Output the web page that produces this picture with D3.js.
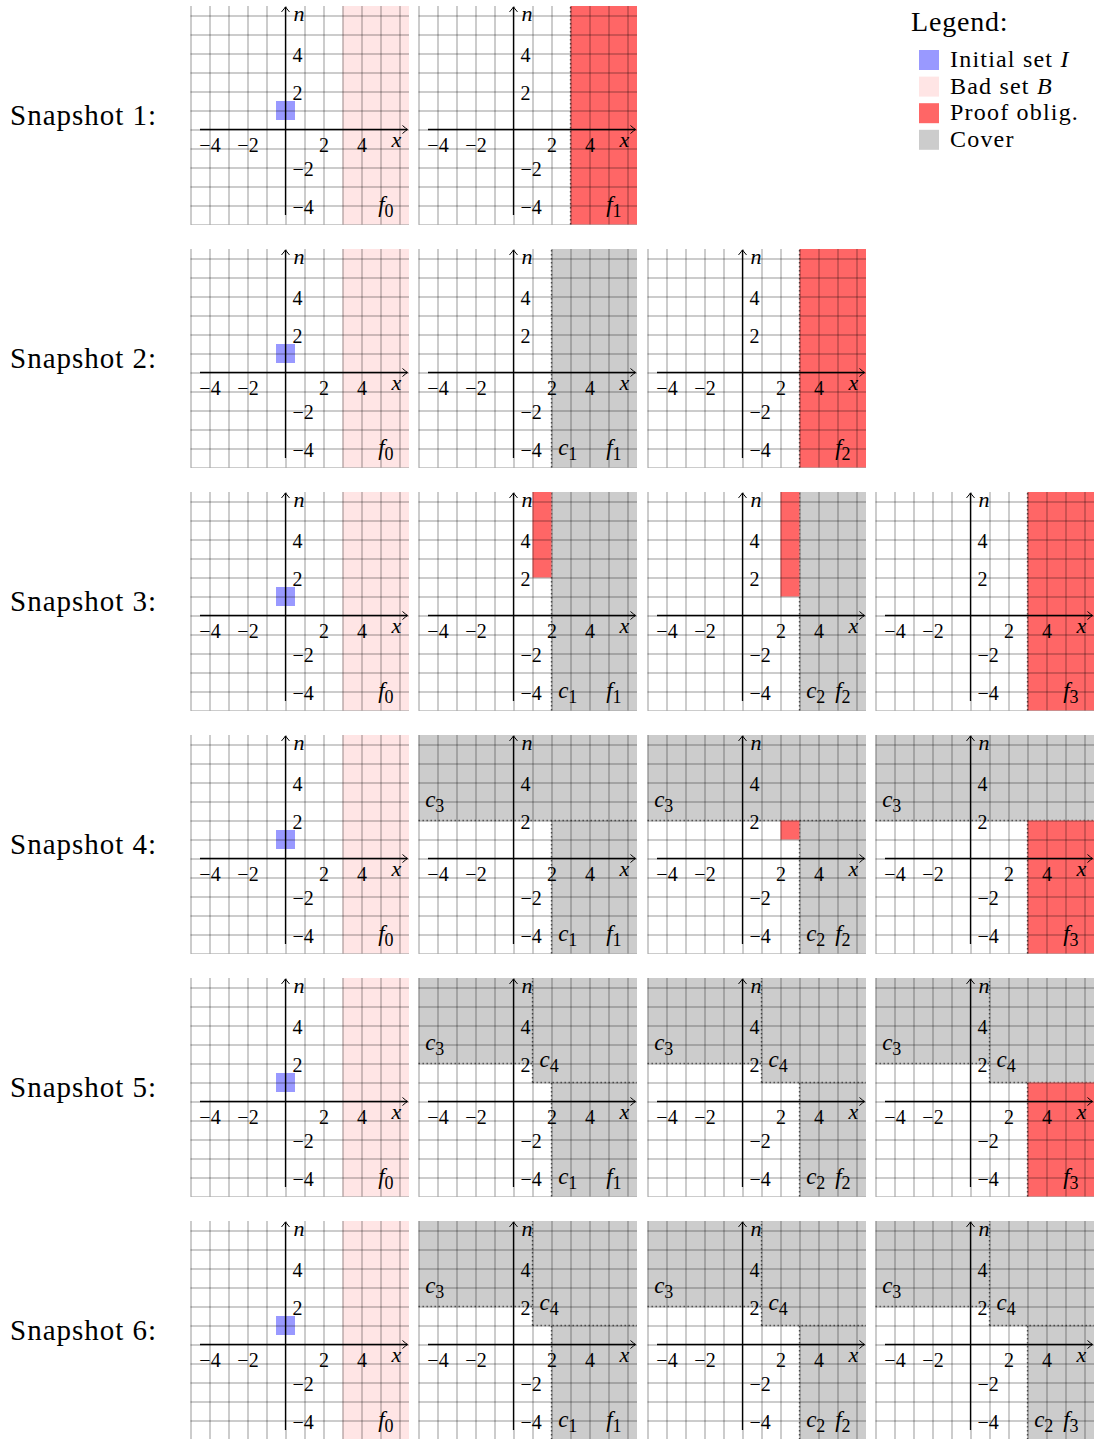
<!DOCTYPE html>
<html>
<head>
<meta charset="utf-8">
<script src="https://cdn.jsdelivr.net/npm/d3@7"></script>
<style>
  body { margin: 0; background: #fff; }
  svg { display: block; }
  text { font-family: "Liberation Serif", "Times New Roman", serif; fill: #000; }
</style>
</head>
<body>
<div id="chart"></div>
<script>
/*#########
  Data
#########*/

// Row labels
const snapshotLabels = ["Snapshot 1:", "Snapshot 2:", "Snapshot 3:", "Snapshot 4:", "Snapshot 5:", "Snapshot 6:"];

// Axis ticks
const tickValues = [-4, -2, 2, 4];

// Sets (rectangles in state space)
const initialSet = {x0: -0.5, x1: 0.5, y0: 0.5, y1: 1.5};
const badSet = {x0: 3, x1: 6.5, y0: -5, y1: 6.5};
const coverSets = {
    c1: {x0: 2, x1: 6.5, y0: -5, y1: 6.5},
    c2: {x0: 3, x1: 6.5, y0: -5, y1: 6.5},
    c3: {x0: -5, x1: 6.5, y0: 2, y1: 6.5},
    c4: {x0: 1, x1: 6.5, y0: 1, y1: 6.5}
};

// Frames of every snapshot: covers (in drawing order) and proof obligations
const snapshotFrames = [
    [
        {frame: 0},
        {frame: 1, covers: [], obligations: [{x0: 3, x1: 6.5, y0: -5, y1: 6.5}]}
    ],
    [
        {frame: 0},
        {frame: 1, covers: ["c1"], obligations: []},
        {frame: 2, covers: [], obligations: [{x0: 3, x1: 6.5, y0: -5, y1: 6.5}]}
    ],
    [
        {frame: 0},
        {frame: 1, covers: ["c1"], obligations: [{x0: 1, x1: 2, y0: 2, y1: 6.5}]},
        {frame: 2, covers: ["c2"], obligations: [{x0: 2, x1: 3, y0: 1, y1: 6.5}]},
        {frame: 3, covers: [], obligations: [{x0: 3, x1: 6.5, y0: -5, y1: 6.5}]}
    ],
    [
        {frame: 0},
        {frame: 1, covers: ["c1", "c3"], obligations: []},
        {frame: 2, covers: ["c2", "c3"], obligations: [{x0: 2, x1: 3, y0: 1, y1: 2}]},
        {frame: 3, covers: ["c3"], obligations: [{x0: 3, x1: 6.5, y0: -5, y1: 2}]}
    ],
    [
        {frame: 0},
        {frame: 1, covers: ["c1", "c3", "c4"], obligations: []},
        {frame: 2, covers: ["c2", "c3", "c4"], obligations: []},
        {frame: 3, covers: ["c3", "c4"], obligations: [{x0: 3, x1: 6.5, y0: -5, y1: 1}]}
    ],
    [
        {frame: 0},
        {frame: 1, covers: ["c1", "c3", "c4"], obligations: []},
        {frame: 2, covers: ["c2", "c3", "c4"], obligations: []},
        {frame: 3, covers: ["c2", "c3", "c4"], obligations: []}
    ]
];

// Legend
const legendLabels = ["Initial set ", "Bad set ", "Proof oblig.", "Cover"];
const legendMath = ["I", "B", "", ""];
const legendColors = ["#9999ff", "#ffe5e5", "#ff6666", "#cccccc"];

/*#########
  Layout
#########*/
const W = 1107, H = 1439;
const unit = 19;
const domain = [-5, 6.5];
const panelSize = (domain[1] - domain[0]) * unit;
const colX = c => Math.round(285 + 228.33 * c) + 0.5;   // x of origin
const rowY = r => Math.round(129.3 + 243 * r) + 0.5;    // y of origin

const svg = d3.select("#chart").append("svg")
    .attr("width", W)
    .attr("height", H);

const defs = svg.append("defs");

/*** Helpers ***/
function rect(g, x, y, s, fill) {
    g.append("rect")
        .attr("x", x(s.x0))
        .attr("y", y(s.y1))
        .attr("width", x(s.x1) - x(s.x0))
        .attr("height", y(s.y0) - y(s.y1))
        .attr("fill", fill);
}

function dotted(g, x1, y1, x2, y2) {
    g.append("line")
        .attr("x1", x1).attr("y1", y1)
        .attr("x2", x2).attr("y2", y2)
        .attr("stroke", "#000")
        .attr("stroke-opacity", 0.6)
        .attr("stroke-width", 1.4)
        .attr("stroke-dasharray", "1.4,2.6");
}

function subLabel(g, px, py, letter, idx) {
    const t = g.append("text")
        .attr("x", px)
        .attr("y", py)
        .style("font-size", "23px");
    t.append("tspan").style("font-style", "italic").text(letter);
    t.append("tspan").attr("dy", 5).style("font-size", "18px").text(idx);
}

/*########################################
        Panel Creation Function
########################################*/
function drawPanel(r, c, spec, id) {
    const ox = colX(c), oy = rowY(r);
    const x = d3.scaleLinear().domain([0, 1]).range([ox, ox + unit]);
    const y = d3.scaleLinear().domain([0, 1]).range([oy, oy - unit]);

    defs.append("clipPath").attr("id", "clip" + id)
        .append("rect")
        .attr("x", x(domain[0]) - 0.5)
        .attr("y", y(domain[1]))
        .attr("width", panelSize + 0.5)
        .attr("height", panelSize + 0.5);

    const g = svg.append("g");
    const body = g.append("g").attr("clip-path", "url(#clip" + id + ")");

    // fills
    if (spec.frame === 0) {
        rect(body, x, y, badSet, legendColors[1]);
        rect(body, x, y, initialSet, legendColors[0]);
    } else {
        spec.covers.forEach(k => {
            const s = coverSets[k];
            rect(body, x, y, s, legendColors[3]);
            if (s.x0 > domain[0]) dotted(body, x(s.x0), y(s.y0), x(s.x0), y(s.y1));
            if (s.y0 > domain[0]) dotted(body, x(s.x0), y(s.y0), x(s.x1), y(s.y0));
        });
        spec.obligations.forEach(s => {
            rect(body, x, y, s, legendColors[2]);
            if (s.y0 === domain[0]) dotted(body, x(s.x0), y(s.y0), x(s.x0), y(s.y1));
        });
    }

    // grid
    const gridVals = d3.range(-5, 7);
    body.append("g")
        .attr("transform", "translate(0," + y(domain[1]) + ")")
        .call(d3.axisBottom(x).tickValues(gridVals).tickSize(panelSize).tickFormat(""))
        .call(a => a.select(".domain").remove())
        .selectAll("line")
        .attr("stroke", "#000").attr("stroke-opacity", 0.4).attr("stroke-width", 1);
    body.append("g")
        .attr("transform", "translate(" + x(domain[1]) + ",0)")
        .call(d3.axisLeft(y).tickValues(gridVals).tickSize(panelSize).tickFormat(""))
        .call(a => a.select(".domain").remove())
        .selectAll("line")
        .attr("stroke", "#000").attr("stroke-opacity", 0.4).attr("stroke-width", 1);

    // axes
    const tipX = x(6.42), tipY = y(6.45);
    g.append("line")
        .attr("x1", x(-4.5)).attr("y1", y(0)).attr("x2", tipX).attr("y2", y(0))
        .attr("stroke", "#000").attr("stroke-width", 1.3);
    g.append("line")
        .attr("x1", x(0)).attr("y1", y(-4.5)).attr("x2", x(0)).attr("y2", tipY)
        .attr("stroke", "#000").attr("stroke-width", 1.3);
    g.append("path")
        .attr("d", `M${tipX - 5},${y(0) - 4} Q${tipX - 1.5},${y(0) - 1} ${tipX},${y(0)} Q${tipX - 1.5},${y(0) + 1} ${tipX - 5},${y(0) + 4}`)
        .attr("fill", "none").attr("stroke", "#000").attr("stroke-width", 1);
    g.append("path")
        .attr("d", `M${x(0) - 4},${tipY + 5} Q${x(0) - 1},${tipY + 1.5} ${x(0)},${tipY} Q${x(0) + 1},${tipY + 1.5} ${x(0) + 4},${tipY + 5}`)
        .attr("fill", "none").attr("stroke", "#000").attr("stroke-width", 1);

    // tick labels
    const fmt = d => d < 0 ? "\u2212" + Math.abs(d) : String(d);
    const xa = g.append("g")
        .attr("transform", "translate(0," + y(0) + ")")
        .call(d3.axisBottom(x).tickValues(tickValues).tickSize(0).tickPadding(8).tickFormat(fmt));
    xa.select(".domain").remove();
    xa.selectAll("text").style("font-size", "20px").style("font-family", "Liberation Serif").attr("fill", "#000");

    const ya = g.append("g")
        .attr("transform", "translate(" + x(0) + ",0)")
        .call(d3.axisRight(y).tickValues(tickValues).tickSize(0).tickPadding(7).tickFormat(fmt));
    ya.select(".domain").remove();
    ya.selectAll("text").style("font-size", "20px").style("font-family", "Liberation Serif")
        .attr("dy", "0.4em").attr("fill", "#000");

    // axis names
    g.append("text").attr("x", x(5.83)).attr("y", y(0) + 17)
        .attr("text-anchor", "middle").style("font-size", "22px").style("font-style", "italic").text("x");
    g.append("text").attr("x", x(0) + 8).attr("y", y(5.72))
        .style("font-size", "22px").style("font-style", "italic").text("n");

    // cover labels
    if (spec.frame > 0) {
        spec.covers.forEach(k => {
            const s = coverSets[k];
            let px, py;
            if (s.y0 === domain[0]) { px = s.x0 + 0.35; py = -4.35; }
            else if (s.x0 === domain[0]) { px = -4.65; py = s.y0 + 0.7; }
            else { px = s.x0 + 0.37; py = s.y0 + 0.79; }
            subLabel(g, x(px), y(py), "c", k.slice(1));
        });
    }
    subLabel(g, x(4.88), y(-4.35), "f", String(spec.frame));
}

/*#########
  Draw
#########*/
snapshotFrames.forEach((frames, r) => {
    svg.append("text")
        .attr("x", 10)
        .attr("y", rowY(r) - 0.75 * unit + 10)
        .style("font-size", "29px")
        .style("letter-spacing", "1px")
        .text(snapshotLabels[r]);
    frames.forEach((spec, c) => drawPanel(r, c, spec, r + "_" + c));
});

// Legend
const legend = svg.append("g");
legend.append("text")
    .attr("x", 911)
    .attr("y", 31)
    .style("font-size", "28px")
    .style("letter-spacing", "0.8px")
    .text("Legend:");
legendLabels.forEach((lab, i) => {
    legend.append("rect")
        .attr("x", 919)
        .attr("y", 50 + 26.6 * i)
        .attr("width", 20)
        .attr("height", 20)
        .attr("fill", legendColors[i]);
    const t = legend.append("text")
        .attr("x", 950)
        .attr("y", 67 + 26.6 * i)
        .style("font-size", "24px")
        .style("letter-spacing", "1.2px");
    t.append("tspan").text(lab);
    if (legendMath[i]) t.append("tspan").style("font-style", "italic").text(legendMath[i]);
});
</script>
</body>
</html>
